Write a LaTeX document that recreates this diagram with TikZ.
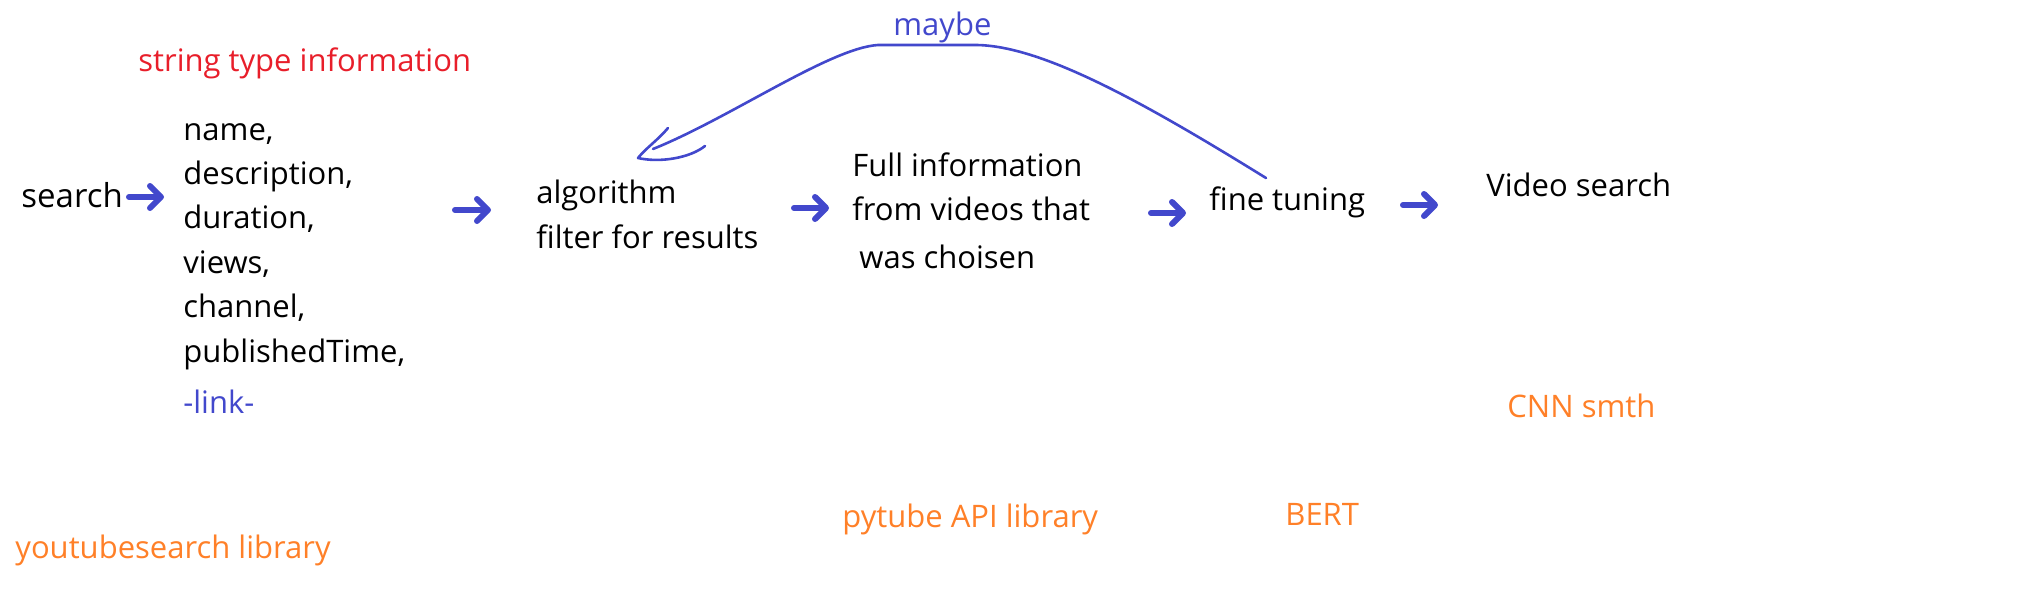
\documentclass[tikz,border=0pt]{standalone}
\usepackage{fontspec}
\setmainfont{Open Sans}
\usetikzlibrary{arrows.meta}
\definecolor{penblue}{RGB}{66,72,204}
\definecolor{inkred}{RGB}{232,30,42}
\definecolor{inkorange}{RGB}{255,128,40}
\begin{document}
\begin{tikzpicture}[x=0.5pt,y=-0.5pt,
  txt/.style={anchor=base west, inner sep=0pt, font=\fontsize{15.5}{22.2}\selectfont},
  bluetxt/.style={txt, text=penblue},
  redtxt/.style={txt, text=inkred},
  orangetxt/.style={txt, text=inkorange},
  flow/.style={penblue, line width=3pt, line cap=round, -{Straight Barb[round,length=5.5pt,width=11pt]}},
  pen/.style={penblue, line width=1.3pt, line cap=round, line join=round}]
\useasboundingbox (0,0) rectangle (2040,599);

\node[txt, font=\fontsize{16.5}{22}\selectfont] (search) at (21,207) {search};
\node[redtxt] (stype) at (138,72) {string type information};
\node[txt, align=left] (fields) at (183,362) {name,\\description,\\duration,\\views,\\channel,\\publishedTime,};
\node[bluetxt] (link) at (183,413) {-link-};
\node[txt, align=left] (algo) at (536,248) {algorithm\\filter for results};
\node[txt, align=left] (full) at (852,268) {Full information\\from videos that\\[1.5pt]\hspace{3.5pt}was choisen};
\node[txt] (fine) at (1209,210) {fine tuning};
\node[txt] (video) at (1486,197) {Video search};
\node[orangetxt] (cnn) at (1507,417) {CNN smth};
\node[orangetxt] (bert) at (1285,525) {BERT};
\node[orangetxt] (pytube) at (842,527) {pytube API library};
\node[orangetxt] (ytlib) at (15,558) {youtubesearch library};
\node[bluetxt] (maybe) at (893,36) {maybe};

\coordinate (a1s) at (129,197); \coordinate (a1e) at (164,197);
\coordinate (a2s) at (455,210); \coordinate (a2e) at (491,210);
\coordinate (a3s) at (794,208); \coordinate (a3e) at (829,208);
\coordinate (a4s) at (1151,213); \coordinate (a4e) at (1186,213);
\coordinate (a5s) at (1403,205); \coordinate (a5e) at (1438,205);
\draw[flow] (a1s) -- (a1e);
\draw[flow] (a2s) -- (a2e);
\draw[flow] (a3s) -- (a3e);
\draw[flow] (a4s) -- (a4e);
\draw[flow] (a5s) -- (a5e);

\coordinate (mstart) at (1266,178);
\coordinate (mend) at (653,149);
\coordinate (tip) at (638,158);
\draw[pen] (mstart) .. controls (1140,100) and (1040,45) .. (975,45) -- (878,45) .. controls (830,48) and (730,118) .. (mend);
\draw[pen] (668,128) .. controls (658,140) and (646,148) .. (tip) .. controls (660,163) and (690,158) .. (705,146);
\end{tikzpicture}
\end{document}
